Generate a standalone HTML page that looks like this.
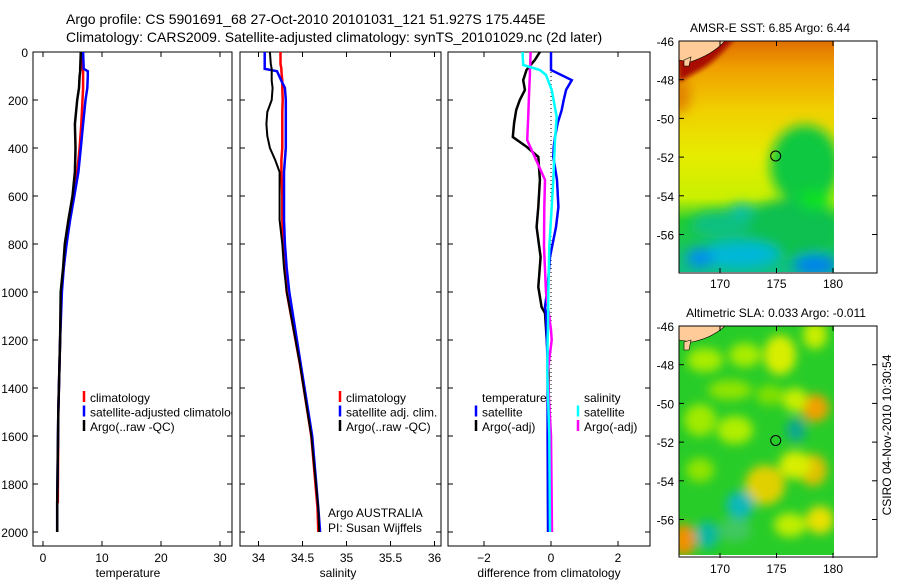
<!DOCTYPE html>
<html><head><meta charset="utf-8"><style>
html,body{margin:0;padding:0;background:#fff;}
body{width:900px;height:580px;overflow:hidden;font-family:"Liberation Sans",sans-serif;}
svg text{font-family:"Liberation Sans",sans-serif;}
</style></head><body>
<svg id="chart" width="900" height="580" xmlns="http://www.w3.org/2000/svg">
<defs>
<filter id="blur6" x="-50%" y="-50%" width="200%" height="200%"><feGaussianBlur stdDeviation="6"/></filter>
<filter id="blur4" x="-50%" y="-50%" width="200%" height="200%"><feGaussianBlur stdDeviation="5"/></filter>
<filter id="blur2" x="-50%" y="-50%" width="200%" height="200%"><feGaussianBlur stdDeviation="2.5"/></filter>
<linearGradient id="sstg" x1="0" y1="0" x2="0" y2="1">
<stop offset="0" stop-color="#e07000"/><stop offset="0.12" stop-color="#f0a000"/>
<stop offset="0.3" stop-color="#f0d000"/><stop offset="0.5" stop-color="#e6ec00"/>
<stop offset="0.68" stop-color="#c8f000"/><stop offset="0.78" stop-color="#20cc30"/>
<stop offset="1" stop-color="#10c080"/></linearGradient>
<clipPath id="m1clip"><rect x="679" y="41" width="155" height="231"/></clipPath>
<clipPath id="m2clip"><rect x="679" y="326" width="155" height="229"/></clipPath>
<clipPath id="p1clip"><rect x="33" y="52" width="199" height="494"/></clipPath>
<clipPath id="p2clip"><rect x="240" y="52" width="201" height="494"/></clipPath>
<clipPath id="p3clip"><rect x="448" y="52" width="202" height="494"/></clipPath>
</defs>
<text x="66" y="24" font-size="14">Argo profile: CS 5901691_68 27-Oct-2010 20101031_121 51.927S 175.445E</text>
<text x="66" y="42" font-size="14">Climatology: CARS2009. Satellite-adjusted climatology: synTS_20101029.nc (2d later)</text>

<!-- Map 1 -->
<g>
<g clip-path="url(#m1clip)">
<rect x="679" y="41" width="155" height="231" fill="url(#sstg)"/>
<g filter="url(#blur6)">
<ellipse cx="680" cy="95" rx="10" ry="18" fill="#e08000"/>
<ellipse cx="805" cy="165" rx="35" ry="40" fill="#10c840"/>
<ellipse cx="790" cy="230" rx="50" ry="30" fill="#10c050"/>
<ellipse cx="720" cy="225" rx="30" ry="14" fill="#10c080"/>
<ellipse cx="740" cy="255" rx="40" ry="14" fill="#00b8d8"/>
<ellipse cx="700" cy="258" rx="14" ry="10" fill="#0090f0"/>
<ellipse cx="815" cy="265" rx="22" ry="10" fill="#0080f0"/>
<ellipse cx="742" cy="210" rx="12" ry="6" fill="#10c0b0"/>
<ellipse cx="815" cy="200" rx="16" ry="10" fill="#10e020"/>
</g>
<path filter="url(#blur2)" d="M676 38 L735 38 Q715 62 700 70 L679 82 Z" fill="#a80800"/>
<path d="M679 41 L725 41 Q712 55 690 62 L679 60 Z" fill="#ffcc99" stroke="#000" stroke-width="0.6"/>
<path d="M684 60 L691 57 L689 66 L684 66 Z" fill="#ffcc99" stroke="#000" stroke-width="0.6"/>
</g>
<rect x="679" y="41" width="198" height="232" fill="none" stroke="#000"/>
<circle cx="775.7" cy="156" r="5" fill="none" stroke="#000"/>
<text x="770" y="32" font-size="12" text-anchor="middle">AMSR-E SST: 6.85 Argo: 6.44</text>
</g>

<!-- Map 2 -->
<g>
<g clip-path="url(#m2clip)">
<rect x="679" y="326" width="155" height="230" fill="#28cc28"/>
<g filter="url(#blur4)">
<ellipse cx="780" cy="355" rx="16" ry="20" fill="#d8ee00"/>
<ellipse cx="705" cy="360" rx="18" ry="12" fill="#a8ec00"/>
<ellipse cx="745" cy="355" rx="16" ry="12" fill="#a8ec00"/>
<ellipse cx="815" cy="335" rx="12" ry="14" fill="#c8ee00"/>
<ellipse cx="730" cy="390" rx="22" ry="10" fill="#90e400"/>
<ellipse cx="770" cy="395" rx="14" ry="10" fill="#80e000"/>
<ellipse cx="815" cy="408" rx="14" ry="14" fill="#f0a000"/>
<ellipse cx="795" cy="400" rx="12" ry="12" fill="#c8ee00"/>
<ellipse cx="735" cy="430" rx="18" ry="14" fill="#b0ee00"/>
<ellipse cx="700" cy="420" rx="16" ry="16" fill="#a0ea00"/>
<ellipse cx="700" cy="470" rx="14" ry="12" fill="#90e400"/>
<ellipse cx="765" cy="485" rx="20" ry="20" fill="#e0d000"/>
<ellipse cx="813" cy="470" rx="14" ry="16" fill="#e0c000"/>
<ellipse cx="795" cy="465" rx="16" ry="14" fill="#d8ee00"/>
<ellipse cx="820" cy="520" rx="14" ry="14" fill="#e8e000"/>
<ellipse cx="790" cy="525" rx="16" ry="12" fill="#c0ee00"/>
<ellipse cx="684" cy="540" rx="12" ry="16" fill="#f09000"/>
<ellipse cx="740" cy="505" rx="14" ry="14" fill="#10b8b8"/>
<ellipse cx="707" cy="535" rx="12" ry="14" fill="#10b8a0"/>
<ellipse cx="796" cy="430" rx="10" ry="12" fill="#10a890"/>
<ellipse cx="735" cy="530" rx="16" ry="12" fill="#40c860"/>
</g>
<path d="M679 326 L725 326 Q712 338 692 342 L679 340 Z" fill="#ffcc99" stroke="#000" stroke-width="0.6"/>
<path d="M684 342 L691 340 L689 350 L684 350 Z" fill="#ffcc99" stroke="#000" stroke-width="0.6"/>
</g>
<rect x="679" y="326" width="198" height="231" fill="none" stroke="#000"/>
<circle cx="775.7" cy="440.5" r="5" fill="none" stroke="#000"/>
<text x="776" y="317" font-size="12" text-anchor="middle">Altimetric SLA: 0.033 Argo: -0.011</text>
</g>
<text transform="translate(891,435) rotate(-90)" font-size="12" text-anchor="middle">CSIRO 04-Nov-2010 10:30:54</text>

<g id="plots"></g>
</svg>
<script>
// Temperature panel
const depthT = [0,70,80,100,150,200,300,400,500,600,700,800,900,1000,1200,1500,1880,2000];
const tempArgo = [6.4,6.3,6.3,6.2,6.1,5.8,5.4,5.5,5.4,5.0,4.3,3.7,3.4,3.0,2.9,2.6,2.4,2.4];
const tempSat = [6.8,6.9,7.6,7.6,7.5,7.2,6.8,6.4,6.0,5.3,4.6,4.0,3.5,3.2,2.9,2.6,2.4,2.4];
const tempClim = [6.7,6.7,6.8,6.8,6.8,6.7,6.5,6.2,5.8,5.2,4.5,3.9,3.5,3.1,2.9,2.6,2.5,null];
// Salinity panel
const depthS = [0,50,70,80,120,150,200,250,300,350,400,450,500,600,700,800,900,1000,1300,1600,1900,2000];
const salArgo = [34.13,34.14,34.15,34.15,34.15,34.16,34.15,34.10,34.09,34.10,34.13,34.19,34.24,34.24,34.24,34.27,34.29,34.32,34.47,34.60,34.68,34.69];
const salSat = [34.07,34.07,34.07,34.21,34.26,34.30,34.31,34.31,34.31,34.31,34.31,34.30,34.29,34.29,34.29,34.30,34.32,34.35,34.48,34.61,34.68,34.70];
const salClim = [34.25,34.25,34.26,34.26,34.27,34.27,34.275,34.27,34.27,34.27,34.27,34.26,34.26,34.27,34.27,34.28,34.30,34.32,34.47,34.60,34.67,34.68];
// Difference panel
const depthDT = [0,33,75,117,158,200,242,296,354,396,437,533,646,729,854,979,1063,1088,1300,1600,2000];
const diffTArgo = [-0.33,-0.48,-0.73,-0.83,-0.78,-0.93,-1.04,-1.1,-1.14,-0.72,-0.38,-0.33,-0.38,-0.43,-0.31,-0.38,-0.28,-0.18,-0.08,-0.06,-0.05];
const diffTSat = [0,0,0.0,0.62,0.45,0.38,0.32,0.2,0.12,0.08,0.07,0.18,0.22,0.15,-0.03,-0.1,-0.18,-0.15,-0.1,-0.1,-0.09];
const depthDS = [0,54,75,96,158,271,367,533,646,812,1000,1158,1200,1337,1600,2000];
const diffSSat = [-0.85,-0.83,-0.33,-0.15,0.02,0.17,0.12,0.07,0.02,-0.05,-0.08,-0.09,-0.1,-0.11,-0.05,-0.03];
const diffSArgo = [-0.61,-0.62,-0.63,-0.63,-0.65,-0.68,-0.71,-0.18,-0.2,-0.21,-0.15,0.0,0.02,-0.1,0.0,0.03];
const depthTicks = [0,200,400,600,800,1000,1200,1400,1600,1800,2000];
const tempTicks = [0,10,20,30];
const salTicks = [34,34.5,35,35.5,36];
const diffTicks = [-2,0,2];

const NS='http://www.w3.org/2000/svg';
const root=document.getElementById('plots');
const yOf=d=>52+0.24*d;
function mk(tag,attrs,parent){const e=document.createElementNS(NS,tag);for(const k in attrs)e.setAttribute(k,attrs[k]);(parent||root).appendChild(e);return e;}

const panels=[
 {name:'temperature-panel',x0:33,x1:232,sx:v=>43+5.9*v,ticks:tempTicks,label:'temperature',lx:128,clip:'p1clip',showY:true},
 {name:'salinity-panel',x0:240,x1:441,sx:v=>258.5+88*(v-34),ticks:salTicks,label:'salinity',lx:338,clip:'p2clip',showY:false},
 {name:'difference-panel',x0:448,x1:650,sx:v=>551+33.5*v,ticks:diffTicks,label:'difference from climatology',lx:549,clip:'p3clip',showY:false}
];
panels.forEach(p=>{
 const g=mk('g',{});
 
 
 p.g=g;
 mk('rect',{x:p.x0,y:52,width:p.x1-p.x0,height:494,fill:'none',stroke:'#000','stroke-width':1},g);
 depthTicks.forEach(d=>{
  const y=yOf(d);
  mk('line',{x1:p.x0,x2:p.x0+5,y1:y,y2:y,stroke:'#000'},g);
  mk('line',{x1:p.x1-5,x2:p.x1,y1:y,y2:y,stroke:'#000'},g);
  if(p.showY){const t=mk('text',{x:28,y:y+5,'font-size':12,'text-anchor':'end'},g);t.textContent=d;}
 });
 p.ticks.forEach(v=>{
  const x=p.sx(v);
  mk('line',{x1:x,x2:x,y1:546,y2:541,stroke:'#000'},g);
  mk('line',{x1:x,x2:x,y1:52,y2:57,stroke:'#000'},g);
  const t=mk('text',{x:x,y:562,'font-size':12,'text-anchor':'middle'},g);t.textContent=String(v).replace('-','\u2212');
 });
 const xl=mk('text',{x:p.lx,y:577,'font-size':12,'text-anchor':'middle'},g);xl.textContent=p.label;
});

function series(p,depths,vals,color,w,name){
 const pts=[];
 depths.forEach((d,i)=>{if(vals[i]!==null&&vals[i]!==undefined)pts.push(p.sx(vals[i]).toFixed(1)+','+yOf(d).toFixed(1));});
 const l=mk('polyline',{points:pts.join(' '),fill:'none',stroke:color,'stroke-width':w,'clip-path':'url(#'+p.clip+')'},p.g);
 
 
}
const [P1,P2,P3]=panels;
series(P1,depthT,tempClim,'#ff0000',2.5,'temp-climatology-line');
series(P1,depthT,tempSat,'#0000ff',2.5,'temp-satellite-line');
series(P1,depthT,tempArgo,'#000000',2.5,'temp-argo-line');
series(P2,depthS,salClim,'#ff0000',2.5,'sal-climatology-line');
series(P2,depthS,salSat,'#0000ff',2.5,'sal-satellite-line');
series(P2,depthS,salArgo,'#000000',2,'sal-argo-line');
mk('line',{x1:P3.sx(0),x2:P3.sx(0),y1:52,y2:yOf(2000),stroke:'#000','stroke-dasharray':'1,3'},P3.g);
series(P3,depthDT,diffTArgo,'#000000',2.5,'diff-temp-argo-line');
series(P3,depthDT,diffTSat,'#0000ff',2.5,'diff-temp-satellite-line');
series(P3,depthDS,diffSArgo,'#ff00ff',2.5,'diff-sal-argo-line');
series(P3,depthDS,diffSSat,'#00ffff',2.5,'diff-sal-satellite-line');

function legend(p,x,items,name){
 const g=mk('g',{'clip-path':'url(#'+p.clip+')'},p.g);
 
 
 items.forEach((it,i)=>{
  const y=397+i*14.5;
  if(it[1])mk('line',{x1:x-6,x2:x-6,y1:y-6,y2:y+5,stroke:it[1],'stroke-width':2.5},g);
  const t=mk('text',{x:x,y:y+5,'font-size':12},g);t.textContent=it[0];
 });
}
legend(P1,90,[['climatology','#ff0000'],['satellite-adjusted climatology','#0000ff'],['Argo(..raw -QC)','#000']],'temperature-legend');
legend(P2,346,[['climatology','#ff0000'],['satellite adj. clim.','#0000ff'],['Argo(..raw -QC)','#000']],'salinity-legend');
legend(P3,482,[['temperature',null],['satellite','#0000ff'],['Argo(-adj)','#000']],'diff-temperature-legend');
legend(P3,584,[['salinity',null],['satellite','#00ffff'],['Argo(-adj)','#ff00ff']],'diff-salinity-legend');
const a1=mk('text',{x:328,y:517,'font-size':12},P2.g);a1.textContent='Argo AUSTRALIA';
const a2=mk('text',{x:328,y:532,'font-size':12},P2.g);a2.textContent='PI: Susan Wijffels';

// map axes
const latTicks=[-46,-48,-50,-52,-54,-56];
const lonTicks=[170,175,180];
[[41,'sst-map-axes'],[326,'sla-map-axes']].forEach(([top,nm])=>{
 const g=mk('g',{});
 
 
 latTicks.forEach(l=>{
  const y=top+(-46-l)*19.35;
  mk('line',{x1:679,x2:684,y1:y,y2:y,stroke:'#000'},g);
  mk('line',{x1:872,x2:877,y1:y,y2:y,stroke:'#000'},g);
  const t=mk('text',{x:674,y:y+5,'font-size':12,'text-anchor':'end'},g);t.textContent=String(l);
 });
 lonTicks.forEach(lo=>{
  const x=720+(lo-170)*11.3;
  mk('line',{x1:x,x2:x,y1:top,y2:top+5,stroke:'#000'},g);
  mk('line',{x1:x,x2:x,y1:top+232,y2:top+227,stroke:'#000'},g);
  const t=mk('text',{x:x,y:top+247,'font-size':12,'text-anchor':'middle'},g);t.textContent=lo;
 });
});
</script>
</body></html>
